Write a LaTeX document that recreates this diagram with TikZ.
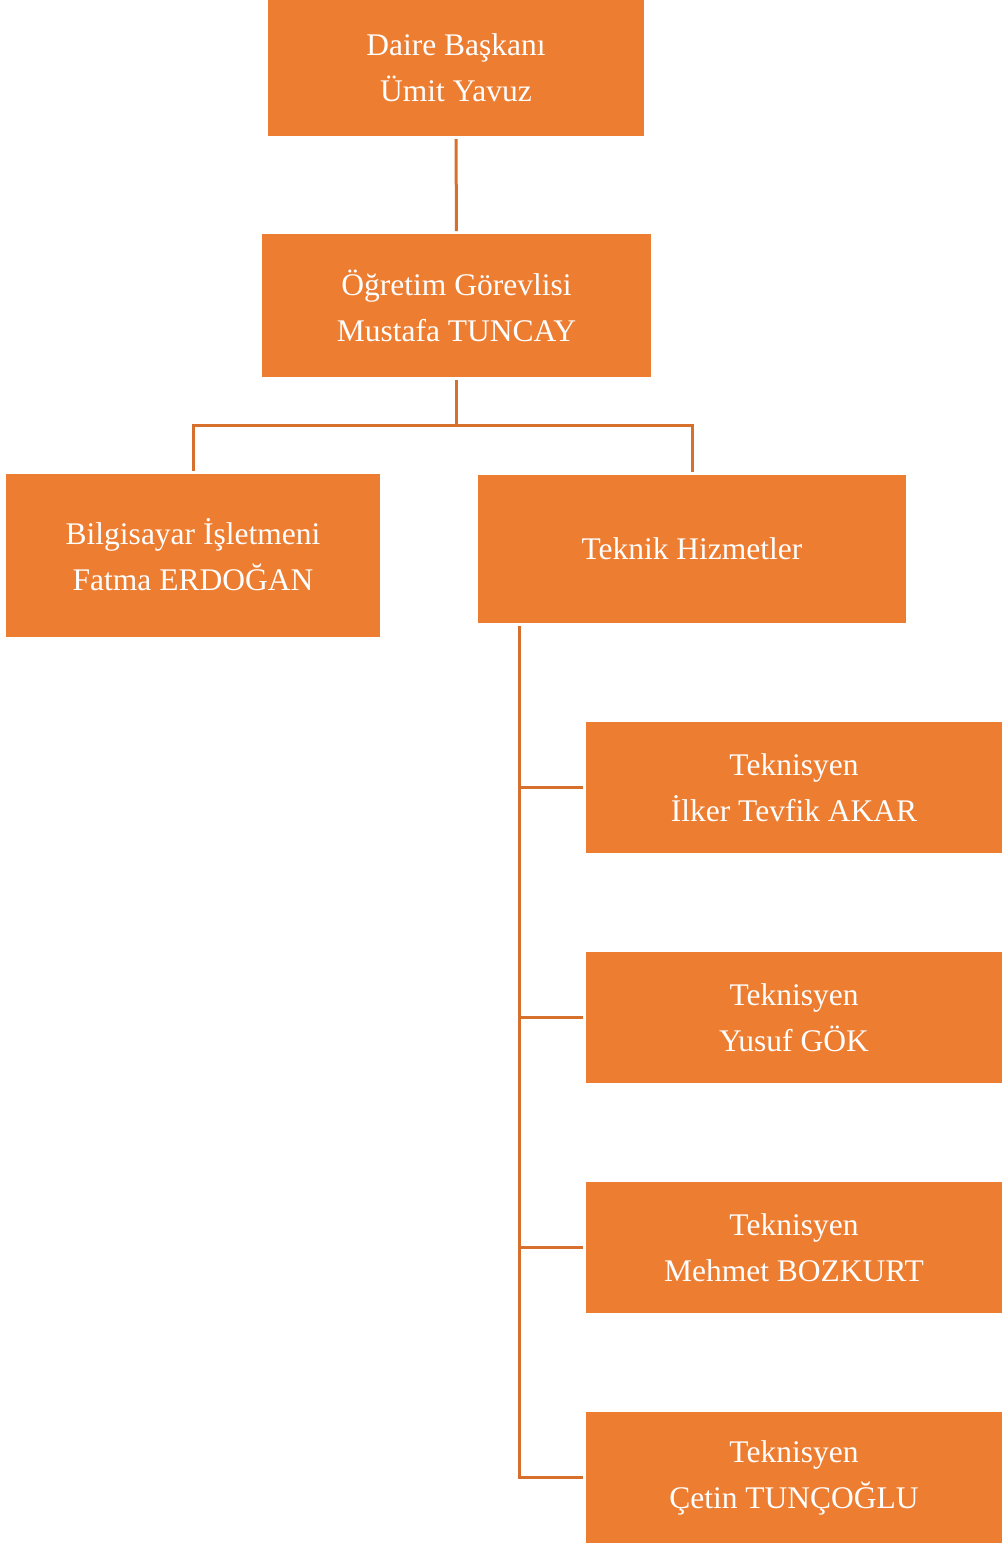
\documentclass[tikz,border=0pt]{standalone}
\usepackage{fontspec}
\setmainfont{Liberation Serif}
\definecolor{boxorange}{HTML}{ED7D31}
\definecolor{lineorange}{HTML}{D8702D}
\tikzset{
  unit/.style={rectangle, fill=boxorange, text=white, align=center,
    inner sep=0pt, outer sep=3pt,
    font={\fontsize{31.5}{46}\selectfont}},
  link/.style={draw=lineorange, line width=3pt}
}
\begin{document}
\begin{tikzpicture}[x=1pt, y=-1pt]
      \useasboundingbox (0,0) rectangle (1002,1543);
      \draw
        (456,68) node[unit, minimum width=376pt, minimum height=136pt] (baskan){Daire Başkanı\\Ümit Yavuz}
        (456.5,305.5) node[unit, minimum width=389pt, minimum height=143pt] (ogr){Öğretim Görevlisi\\Mustafa TUNCAY}
        (193,555) node[unit, minimum width=374pt, minimum height=163pt] (bil){Bilgisayar İşletmeni\\Fatma ERDOĞAN}
        (692,549) node[unit, minimum width=428pt, minimum height=148pt] (tek){Teknik Hizmetler}
        (794,787.5) node[unit, minimum width=416pt, minimum height=131pt] (t1){Teknisyen\\İlker Tevfik AKAR}
        (794,1017.5) node[unit, minimum width=416pt, minimum height=131pt] (t2){Teknisyen\\Yusuf GÖK}
        (794,1247.5) node[unit, minimum width=416pt, minimum height=131pt] (t3){Teknisyen\\Mehmet BOZKURT}
        (794,1477.5) node[unit, minimum width=416pt, minimum height=131pt] (t4){Teknisyen\\Çetin TUNÇOĞLU};
      \coordinate (split) at (ogr.south |- 0,425);
      \coordinate (trunk) at ([xshift=44pt]tek.south west);
      \begin{scope}[link]
        \draw (baskan) to (ogr);
        \draw (ogr.south) to (split);
        \draw (split) -| (bil.north);
        \draw (split) -| (tek.north);
        \draw (trunk) |- (t1.west);
        \draw (trunk) |- (t2.west);
        \draw (trunk) |- (t3.west);
        \draw (trunk) |- (t4.west);
      \end{scope}
    \end{tikzpicture}
\end{document}
